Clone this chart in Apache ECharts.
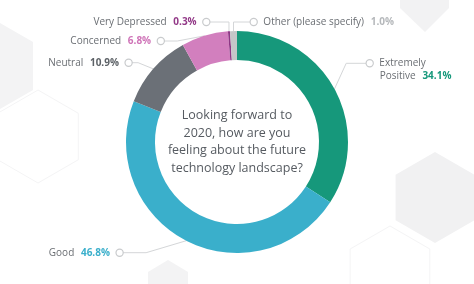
<!DOCTYPE html>
<html>
<head>
<meta charset="utf-8">
<script src="https://cdn.jsdelivr.net/npm/echarts@6/dist/echarts.min.js"></script>
<style>
html,body{margin:0;padding:0;background:#fff;}
#chart{width:474px;height:284px;}
</style>
</head>
<body>
<div id="chart"></div>
<script>
// ---- data ----
const categories = ['Extremely Positive', 'Good', 'Neutral', 'Concerned', 'Very Depressed', 'Other (please specify)'];
const values = [34.1, 46.8, 10.9, 6.8, 0.3, 1.0];
const sliceColors = ['#16987b', '#3aafcb', '#6b7077', '#d27fbe', '#8e3785', '#c4c6c8'];
const pctColors = ['#16987b', '#3aafcb', '#5d6267', '#cf74b8', '#933a88', '#b5b8bb'];
const centerTitle = 'Looking forward to\n2020, how are you\nfeeling about the future\ntechnology landscape?';

// ---- label placement (circle marker centres, side, elbow distance) ----
const labelPlace = {
  'Extremely Positive': {cx: 371, cy: 63.3, side: 'right', elbow: 21},
  'Good': {cx: 118.3, cy: 252.7, side: 'left', elbow: 24},
  'Neutral': {cx: 127.3, cy: 62.7, side: 'left', elbow: 7},
  'Concerned': {cx: 159.5, cy: 41, side: 'left', elbow: 14},
  'Very Depressed': {cx: 205, cy: 22, side: 'left', elbow: null},
  'Other (please specify)': {cx: 255, cy: 22, side: 'right', elbow: null}
};
const R_DOT = 3.8;

function hexPoints(cx, cy, r) {
  const pts = [];
  for (let i = 0; i < 6; i++) {
    const a = Math.PI / 180 * (60 * i - 90);
    pts.push([cx + r * Math.cos(a), cy + r * Math.sin(a)]);
  }
  return pts;
}

const chart = echarts.init(document.getElementById('chart'), null, {renderer: 'canvas'});

const fontFamily = '"Open Sans", "Noto Sans", sans-serif';
const rich = {
  n: {color: '#6a6e73', fontSize: 10, fontFamily: fontFamily, lineHeight: 13},
  c: {width: 6, height: 6, borderRadius: 4, borderColor: '#c9cbcd', borderWidth: 1.2, backgroundColor: '#fff'},
  s: {width: 13}
};
categories.forEach((c, i) => {
  rich['p' + i] = {color: pctColors[i], fontSize: 10, fontWeight: 'bold', fontFamily: fontFamily, lineHeight: 13};
});

const data = categories.map((name, i) => ({
  name: name,
  value: values[i],
  itemStyle: {color: sliceColors[i]}
}));

function fmt(p) {
  const i = p.dataIndex;
  const pct = values[i].toFixed(1) + '%';
  const pl = labelPlace[p.name];
  if (p.name === 'Extremely Positive') {
    return '{c|}  {n|Extremely}\n{s|}{n|Positive}  {p' + i + '|' + pct + '}';
  }
  if (pl.side === 'left') return '{n|' + p.name + '}  {p' + i + '|' + pct + '}  {c|}';
  return '{c|}  {n|' + p.name + '}  {p' + i + '|' + pct + '}';
}

const option = {
  backgroundColor: '#ffffff',
  animation: false,
  title: {
    text: centerTitle,
    left: 'center',
    top: 'middle',
    textStyle: {color: '#565b61', fontSize: 12.5, fontWeight: 'normal', fontFamily: fontFamily, lineHeight: 17.5}
  },
  graphic: [
    {type: 'polygon', z: -10, shape: {points: hexPoints(-8.5, 66, 48)}, style: {fill: '#f3f3f4'}},
    {type: 'polygon', z: -10, shape: {points: hexPoints(38, 136.5, 46.5)}, style: {fill: 'none', stroke: '#f4f4f5', lineWidth: 1}},
    {type: 'polygon', z: -10, shape: {points: hexPoints(435, 197.5, 45.5)}, style: {fill: '#f1f1f2'}},
    {type: 'polygon', z: -10, shape: {points: hexPoints(390, 272, 46)}, style: {fill: 'none', stroke: '#f4f4f5', lineWidth: 1}},
    {type: 'polygon', z: -10, shape: {points: [[400, -10], [449, -10], [449, 8], [425, 32], [400, 8]]}, style: {fill: '#f2f2f3'}},
    {type: 'polygon', z: -10, shape: {points: [[168, 260], [188, 272], [188, 290], [148, 290], [148, 272]]}, style: {fill: '#f3f3f4'}}
  ],
  series: [{
    type: 'pie',
    center: [237, 142],
    radius: [82, 111],
    startAngle: 90,
    clockwise: true,
    avoidLabelOverlap: false,
    silent: true,
    data: data,
    label: {
      show: true,
      position: 'outside',
      formatter: fmt,
      rich: rich
    },
    labelLine: {
      show: true,
      length: 10,
      length2: 10,
      smooth: false,
      lineStyle: {color: '#d4d6d8', width: 1}
    },
    labelLayout: function (params) {
      const name = categories[params.dataIndex];
      const pl = labelPlace[name];
      let anchor = params.labelLinePoints && params.labelLinePoints[0];
      const left = pl.side === 'left';
      const endX = left ? pl.cx + R_DOT : pl.cx - R_DOT;
      const elbowX = pl.elbow === null ? anchor[0] : (left ? pl.cx + R_DOT + pl.elbow : pl.cx - R_DOT - pl.elbow);
      const isTwo = name === 'Extremely Positive';
      return {
        x: left ? pl.cx + R_DOT + 0.5 : pl.cx - R_DOT - 0.5,
        y: isTwo ? pl.cy - 6.5 : pl.cy,
        align: left ? 'right' : 'left',
        verticalAlign: isTwo ? 'top' : 'middle',
        labelLinePoints: [anchor, [elbowX, pl.cy], [endX, pl.cy]]
      };
    }
  }]
};
chart.setOption(option);
</script>
</body>
</html>
